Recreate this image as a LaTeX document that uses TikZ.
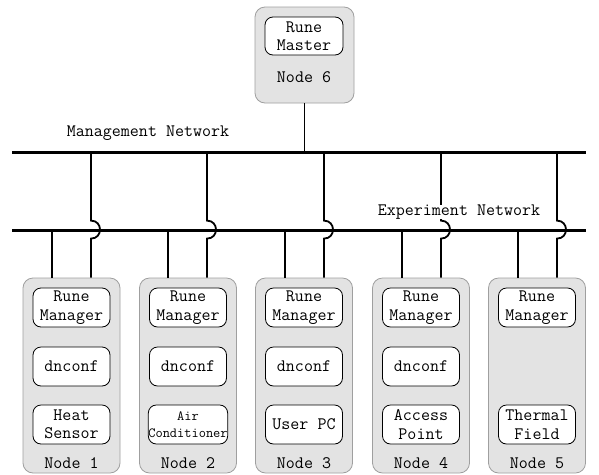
\documentclass[tikz,border=0pt]{standalone}
\usepackage{fontspec}
\begin{document}
\begin{tikzpicture}[x=1pt,y=-1pt,
  host/.style={draw=gray!75, fill=gray!22, rounded corners=10pt, line width=0.8pt, minimum width=97pt, minimum height=195pt, inner sep=0pt},
  comp/.style={draw=black, fill=white, rounded corners=8pt, line width=0.8pt, minimum width=77pt, minimum height=39pt, align=center, inner sep=0pt, font=\ttfamily\fontsize{17.5}{18.5}\selectfont},
  lab/.style={font=\ttfamily\fontsize{17.5}{18.5}\selectfont, inner sep=1pt},
  net/.style={line width=3pt},
  wire/.style={line width=1.8pt}]
\useasboundingbox (0,0) rectangle (599,474);

% networks
\coordinate (mL) at (12,152); \coordinate (mR) at (586,152);
\coordinate (eL) at (12,230); \coordinate (eR) at (586,230);
\draw[net] (mL) -- (mR);
\draw[net] (eL) -- (eR);
\node[lab] (mlab) at (148,133) {Management Network};

% master node
\node[host, minimum width=99pt, minimum height=96pt] (n6) at (304.5,55) {};
\node[comp, minimum width=78pt, minimum height=38pt] (rmaster) at (304,36) {Rune\\Master};
\node[lab] (l6) at (304,77) {Node 6};
\draw[wire] (n6.south) -- (n6.south |- mL);

% hosts
\foreach \i/\cx/\xl/\xr in {1/71.5/52/91, 2/188/168/207, 3/304/285/324, 4/421/402/441, 5/537/518/557}{
  \node[host] (n\i) at (\cx,375.5) {};
  \node[comp] (rm\i) at (\cx,307.5) {Rune\\Manager};
  \node[lab] (l\i) at (\cx,463) {Node \i};
  \coordinate (e\i) at (\xl,230);
  \coordinate (m\i) at (\xr,152);
  \draw[wire] (e\i |- n\i.north) -- (e\i);
  \draw[wire] (m\i |- n\i.north) -- ++(0,-39) .. controls +(12,0) and +(12,0) .. ++(0,-18) -- (m\i);
}
\node[comp] (dn1) at (71.5,366.5) {dnconf};
\node[comp] (dn2) at (188,366.5) {dnconf};
\node[comp] (dn3) at (304,366.5) {dnconf};
\node[comp] (dn4) at (421,366.5) {dnconf};
\node[comp] (dev1) at (71.5,424.5) {Heat\\Sensor};
\node[comp, font=\ttfamily\fontsize{14}{17}\selectfont] (dev2) at (188,424.5) {Air\\Conditioner};
\node[comp] (dev3) at (304,424.5) {User PC};
\node[comp] (dev4) at (421,424.5) {Access\\Point};
\node[comp] (dev5) at (537,424.5) {Thermal\\Field};

\node[lab, fill=white, inner sep=0pt] (elab) at (459,212) {Experiment Network};
\end{tikzpicture}
\end{document}
